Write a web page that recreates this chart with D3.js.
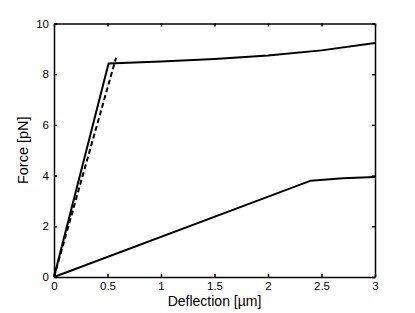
<!DOCTYPE html>
<html>
<head>
<meta charset="utf-8">
<script src="https://cdn.jsdelivr.net/npm/d3@7"></script>
<style>
  body { margin: 0; background: #fff; }
  svg { display: block; }
  text { font-family: "Liberation Sans", Arial, sans-serif; fill: #000; }
</style>
</head>
<body>
<div id="chart"></div>
<script>
// Data
const xTicks = [0, 0.5, 1, 1.5, 2, 2.5, 3];
const xTickLabels = ["0", "0.5", "1", "1.5", "2", "2.5", "3"];
const yTicks = [0, 2, 4, 6, 8, 10];
const yTickLabels = ["0", "2", "4", "6", "8", "10"];

// upper solid curve
const upperX = [0, 0.51, 1, 1.5, 2, 2.5, 3];
const upperY = [0, 8.42, 8.5, 8.6, 8.74, 8.94, 9.23];
// dashed straight line
const dashX = [0, 0.58];
const dashY = [0, 8.65];
// lower solid curve
const lowerX = [0, 2.4, 2.7, 3];
const lowerY = [0, 3.8, 3.9, 3.94];

const width = 415;
const height = 313;
const margin = { left: 54, right: 40, top: 23.5, bottom: 36 };

const svg = d3
  .select("#chart")
  .append("svg")
  .attr("width", width)
  .attr("height", height);

const x = d3.scaleLinear().domain([0, 3]).range([margin.left, width - margin.right]);
const y = d3.scaleLinear().domain([0, 10]).range([height - margin.bottom, margin.top]);

const tickLen = 3;

// axes: ticks inward, mirrored on top and right
const bottomAxis = d3.axisBottom(x).tickValues(xTicks)
  .tickFormat((d, i) => xTickLabels[i]).tickSizeInner(-tickLen).tickSizeOuter(0).tickPadding(5);
const topAxis = d3.axisTop(x).tickValues(xTicks)
  .tickFormat("").tickSizeInner(-tickLen).tickSizeOuter(0);
const leftAxis = d3.axisLeft(y).tickValues(yTicks)
  .tickFormat((d, i) => yTickLabels[i]).tickSizeInner(-tickLen).tickSizeOuter(0).tickPadding(5);
const rightAxis = d3.axisRight(y).tickValues(yTicks)
  .tickFormat("").tickSizeInner(-tickLen).tickSizeOuter(0);

function styleAxis(g) {
  g.selectAll("path.domain").attr("stroke", "#000").attr("stroke-width", 1.5);
  g.selectAll(".tick line").attr("stroke", "#000").attr("stroke-width", 1.5);
  g.selectAll(".tick text").attr("fill", "#000").attr("font-size", "11.5px")
    .style("font-family", '"Liberation Sans", Arial, sans-serif');
}

svg.append("g").attr("transform", `translate(0,${y(0)})`).call(bottomAxis).call(styleAxis);
svg.append("g").attr("transform", `translate(0,${y(10)})`).call(topAxis).call(styleAxis);
svg.append("g").attr("transform", `translate(${x(0)},0)`).call(leftAxis).call(styleAxis);
svg.append("g").attr("transform", `translate(${x(3)},0)`).call(rightAxis).call(styleAxis);

const line = d3.line().x((d) => x(d[0])).y((d) => y(d[1]));

function drawSeries(xs, ys, dash) {
  svg.append("path")
    .datum(xs.map((v, i) => [v, ys[i]]))
    .attr("d", line)
    .attr("fill", "none")
    .attr("stroke", "#000")
    .attr("stroke-width", 2)
    .attr("stroke-dasharray", dash || null);
}

drawSeries(upperX, upperY);
drawSeries(dashX, dashY, "5,3");
drawSeries(lowerX, lowerY);

// axis labels
svg.append("text")
  .attr("x", (x(0) + x(3)) / 2)
  .attr("y", 306)
  .attr("text-anchor", "middle")
  .attr("font-size", "14px")
  .attr("fill", "#000")
  .text("Deflection [\u00b5m]");

svg.append("text")
  .attr("transform", `translate(28,${(y(0) + y(10)) / 2}) rotate(-90)`)
  .attr("text-anchor", "middle")
  .attr("font-size", "14.5px")
  .attr("fill", "#000")
  .text("Force [pN]");
</script>
</body>
</html>
